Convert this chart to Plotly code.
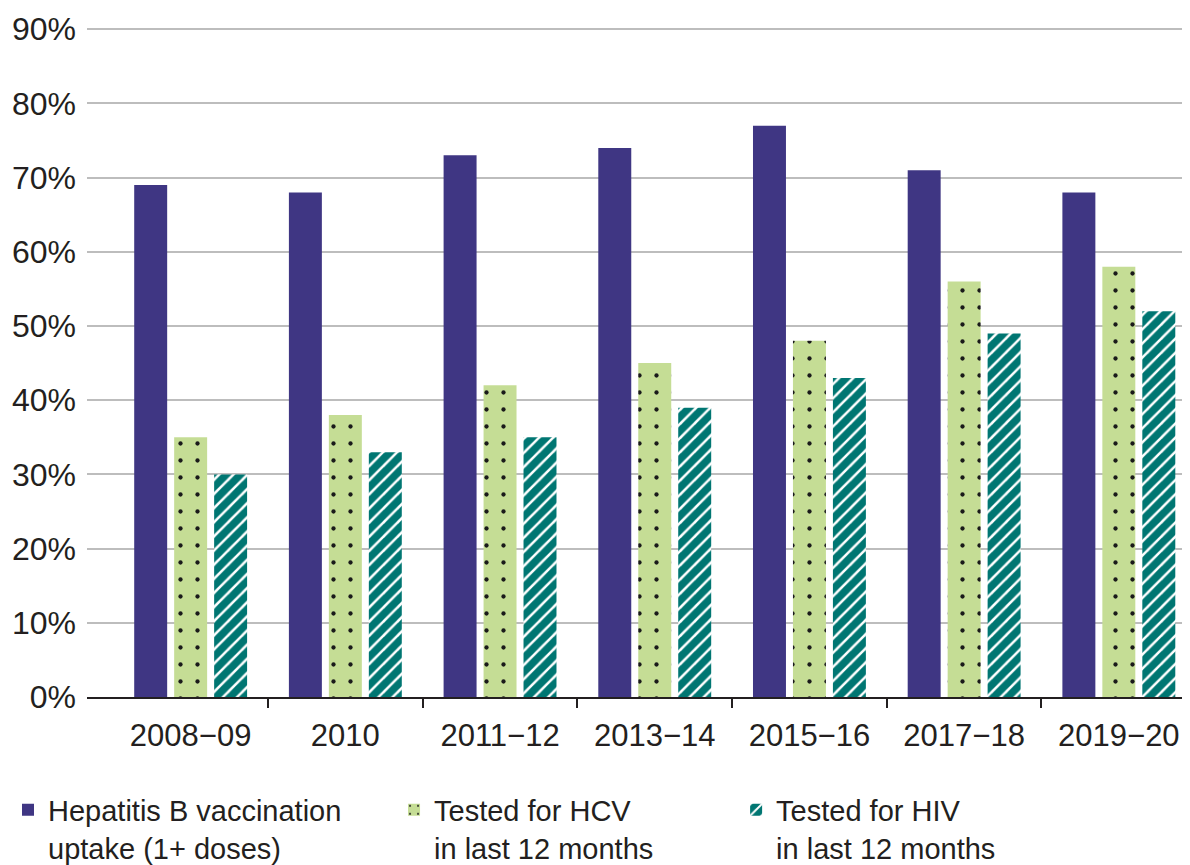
import plotly.graph_objects as go

years = ["2008−09", "2010", "2011−12", "2013−14", "2015−16", "2017−18", "2019−20"]
hepb = [69, 68, 73, 74, 77, 71, 68]
hcv = [35, 38, 42, 45, 48, 56, 58]
hiv = [30, 33, 35, 39, 43, 49, 52]
pct_ticks = [0, 10, 20, 30, 40, 50, 60, 70, 80, 90]

font = "Liberation Sans, Arial, sans-serif"
txt = "#231f20"

# numeric positions so the divider ticks can sit between year groups
pos = list(range(len(years)))
dividers = [i + 0.5 for i in pos[:-1]]

fig = go.Figure()
fig.add_trace(go.Bar(x=pos, y=hepb, name="Hepatitis B vaccination<br>uptake (1+ doses)",
                     marker=dict(color="#3f3683", line_width=0), legend="legend"))
fig.add_trace(go.Bar(x=pos, y=hcv, name="Tested for HCV<br>in last 12 months",
                     marker=dict(color="#c5dd95", line_width=0,
                                 pattern=dict(shape=".", fgcolor="#1a1a1a", bgcolor="#c5dd95",
                                              size=17, solidity=0.05, fillmode="replace")),
                     legend="legend2"))
fig.add_trace(go.Bar(x=pos, y=hiv, name="Tested for HIV<br>in last 12 months",
                     marker=dict(color="#007672", line_width=0,
                                 pattern=dict(shape="/", fgcolor="white", bgcolor="#007672",
                                              size=10, solidity=0.25, fillmode="replace")),
                     legend="legend3"))

# page body adds an 8px margin, so the figure is 8px smaller than the window
leg = dict(font=dict(family=font, size=29, color=txt), xref="container", yref="container",
           yanchor="top", y=0.094, xanchor="left", valign="top",
           bgcolor="rgba(0,0,0,0)", itemclick=False)

fig.update_layout(
    width=1182, height=857,
    margin=dict(l=79, r=0, t=19, b=168, autoexpand=False),
    plot_bgcolor="white", paper_bgcolor="white",
    barmode="group", bargap=0.225, bargroupgap=0.175,
    font=dict(family=font, size=28, color=txt),
    showlegend=True,
    legend=dict(leg, x=0),
    legend2=dict(leg, x=0.3266),
    legend3=dict(leg, x=0.616),
    xaxis=dict(range=[-0.67, 6.46], tickmode="array", tickvals=pos, ticktext=years,
               showline=True, linecolor="#231f20", linewidth=2, zeroline=False,
               ticks="", tickfont=dict(size=31, color=txt), showgrid=False,
               automargin=False, ticklabelstandoff=10,
               minor=dict(tickmode="array", tickvals=dividers, ticks="outside", ticklen=9,
                          tickwidth=1.5, tickcolor="#231f20", showgrid=False)),
    yaxis=dict(range=[0, 90.3], tickmode="array", tickvals=pct_ticks,
               ticktext=[f"{v}%" for v in pct_ticks], showgrid=True, gridcolor="#bdbdbd",
               gridwidth=1.5, zeroline=False, ticks="", tickfont=dict(size=32, color=txt),
               ticklabelstandoff=10, automargin=False),
)

fig.write_html("out.html")
